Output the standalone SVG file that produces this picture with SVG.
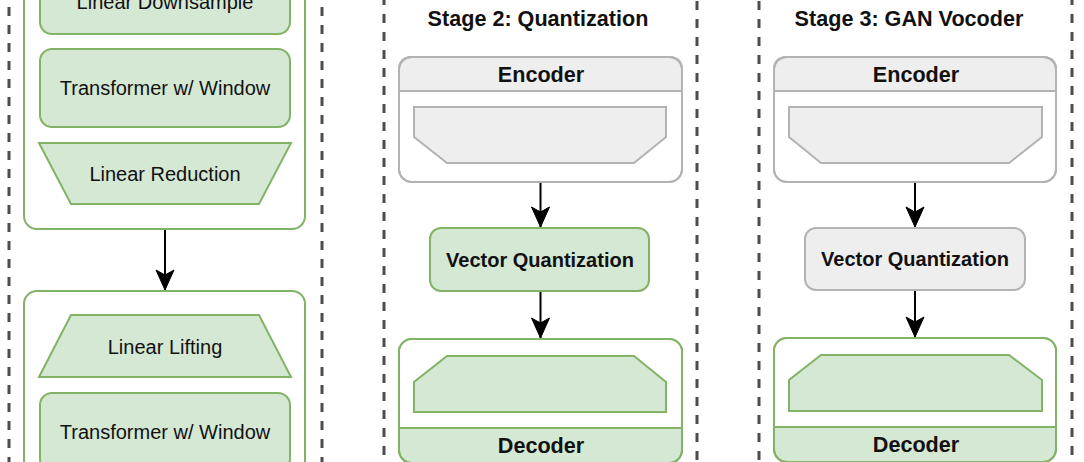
<svg xmlns="http://www.w3.org/2000/svg" width="1084" height="462" viewBox="0 0 1084 462">
  <style>
    .sep { stroke: #4d4d4d; stroke-width: 3; stroke-dasharray: 9 9; fill: none; }
    .g { fill: #d5e8d4; stroke: #82b366; stroke-width: 2; }
    .gw { fill: #ffffff; stroke: #82b366; stroke-width: 2; }
    .gl { fill: none; stroke: #82b366; stroke-width: 2; }
    .k { fill: #eeeeee; stroke: #b3b3b3; stroke-width: 2; }
    .kw { fill: #ffffff; stroke: #b3b3b3; stroke-width: 2; }
    .kl { fill: none; stroke: #b3b3b3; stroke-width: 2; }
    .t { font-family: "Liberation Sans", Arial, sans-serif; font-size: 20px; fill: #111111; text-anchor: middle; }
    .b { font-family: "Liberation Sans", Arial, sans-serif; font-size: 21.6px; font-weight: bold; fill: #111111; text-anchor: middle; }
    .b20 { font-family: "Liberation Sans", Arial, sans-serif; font-size: 20px; font-weight: bold; fill: #111111; text-anchor: middle; }
    .edge { stroke: #000000; stroke-width: 2; fill: none; marker-end: url(#arr); }
  </style>
  <defs>
    <marker id="arr" markerUnits="userSpaceOnUse" markerWidth="22" markerHeight="22" viewBox="-1 -11 22 22" refX="20" refY="0" orient="auto">
      <path d="M20,0 L0,-9 L5,0 L0,9 Z" fill="#000000" stroke="#000000" stroke-width="1"/>
    </marker>
  </defs>
  <rect width="1084" height="462" fill="#ffffff"/>

  <g id="separators">
    <line class="sep" x1="9" y1="0" x2="9" y2="462" stroke-dashoffset="11"/>
    <line class="sep" x1="322" y1="0" x2="322" y2="462" stroke-dashoffset="11"/>
    <line class="sep" x1="384" y1="0" x2="384" y2="462" stroke-dashoffset="4"/>
    <line class="sep" x1="697" y1="0" x2="697" y2="462" stroke-dashoffset="17"/>
    <line class="sep" x1="759" y1="0" x2="759" y2="462" stroke-dashoffset="17"/>
    <line class="sep" x1="1072" y1="0" x2="1072" y2="462" stroke-dashoffset="4"/>
  </g>

  <!-- Stage 1 (left) -->
  <g id="stage1-down-container">
    <rect class="gw" x="24" y="-60" width="281" height="289" rx="13"/>
  </g>
  <g id="linear-downsample">
    <rect class="g" x="40" y="-44" width="250" height="78" rx="12"/>
    <text class="t" x="165" y="9">Linear Downsample</text>
  </g>
  <g id="transformer-1">
    <rect class="g" x="40" y="49" width="250" height="78" rx="12"/>
    <text class="t" x="165" y="95">Transformer w/ Window</text>
  </g>
  <g id="linear-reduction">
    <polygon class="g" points="39,143 291,143 259,204 71,204"/>
    <text class="t" x="165" y="181">Linear Reduction</text>
  </g>

  <g id="stage1-up-container">
    <rect class="gw" x="24" y="291" width="281" height="220" rx="13"/>
  </g>
  <g id="linear-lifting">
    <polygon class="g" points="71,315 259,315 291,377 39,377"/>
    <text class="t" x="165" y="354">Linear Lifting</text>
  </g>
  <g id="transformer-2">
    <rect class="g" x="40" y="393" width="250" height="78" rx="12"/>
    <text class="t" x="165" y="439">Transformer w/ Window</text>
  </g>

  <!-- Stage 2 (middle) -->
  <g id="stage2-title">
    <text class="b" x="538" y="26">Stage 2: Quantization</text>
  </g>
  <g id="stage2-encoder">
    <rect class="kw" x="399" y="57" width="283" height="125" rx="13"/>
    <path class="k" d="M399,91 V70 Q399,57 412,57 H669 Q682,57 682,70 V91 Z"/>
    <rect class="kl" x="399" y="57" width="283" height="125" rx="13"/>
    <text class="b" x="541" y="82">Encoder</text>
    <polygon class="k" points="414,107 666,107 666,137 634,163 447,163 414,137"/>
  </g>
  <g id="stage2-vq">
    <rect class="g" x="430" y="228" width="219" height="63" rx="11"/>
    <text class="b20" x="540" y="267">Vector Quantization</text>
  </g>
  <g id="stage2-decoder">
    <rect class="g" x="399" y="339" width="283" height="124" rx="13"/>
    <path d="M399,428 V352 Q399,339 412,339 H669 Q682,339 682,352 V428 Z" fill="#ffffff" stroke="none"/>
    <line class="gl" x1="399" y1="428" x2="682" y2="428"/>
    <rect class="gl" x="399" y="339" width="283" height="124" rx="13"/>
    <polygon class="g" points="447,356 634,356 666,382 666,412 414,412 414,382"/>
    <text class="b" x="541" y="453">Decoder</text>
  </g>

  <!-- Stage 3 (right) -->
  <g id="stage3-title">
    <text class="b" x="909" y="26">Stage 3: GAN Vocoder</text>
  </g>
  <g id="stage3-encoder">
    <rect class="kw" x="774" y="57" width="282" height="125" rx="13"/>
    <path class="k" d="M774,91 V70 Q774,57 787,57 H1043 Q1056,57 1056,70 V91 Z"/>
    <rect class="kl" x="774" y="57" width="282" height="125" rx="13"/>
    <text class="b" x="916" y="82">Encoder</text>
    <polygon class="k" points="789,107 1042,107 1042,137 1009,163 821,163 789,137"/>
  </g>
  <g id="stage3-vq">
    <rect class="k" x="805" y="228" width="220" height="62" rx="11"/>
    <text class="b20" x="915" y="266">Vector Quantization</text>
  </g>
  <g id="stage3-decoder">
    <rect class="g" x="774" y="338" width="282" height="124" rx="13"/>
    <path d="M774,427 V351 Q774,338 787,338 H1043 Q1056,338 1056,351 V427 Z" fill="#ffffff" stroke="none"/>
    <line class="gl" x1="774" y1="427" x2="1056" y2="427"/>
    <rect class="gl" x="774" y="338" width="282" height="124" rx="13"/>
    <polygon class="g" points="821,355 1009,355 1042,380 1042,411 789,411 789,380"/>
    <text class="b" x="916" y="452">Decoder</text>
  </g>

  <g id="connectors">
    <line class="edge" x1="165" y1="230" x2="165" y2="290"/>
    <line class="edge" x1="540.5" y1="183" x2="540.5" y2="227"/>
    <line class="edge" x1="540.5" y1="292" x2="540.5" y2="338"/>
    <line class="edge" x1="915" y1="183" x2="915" y2="227"/>
    <line class="edge" x1="915" y1="291" x2="915" y2="337"/>
  </g>
</svg>
